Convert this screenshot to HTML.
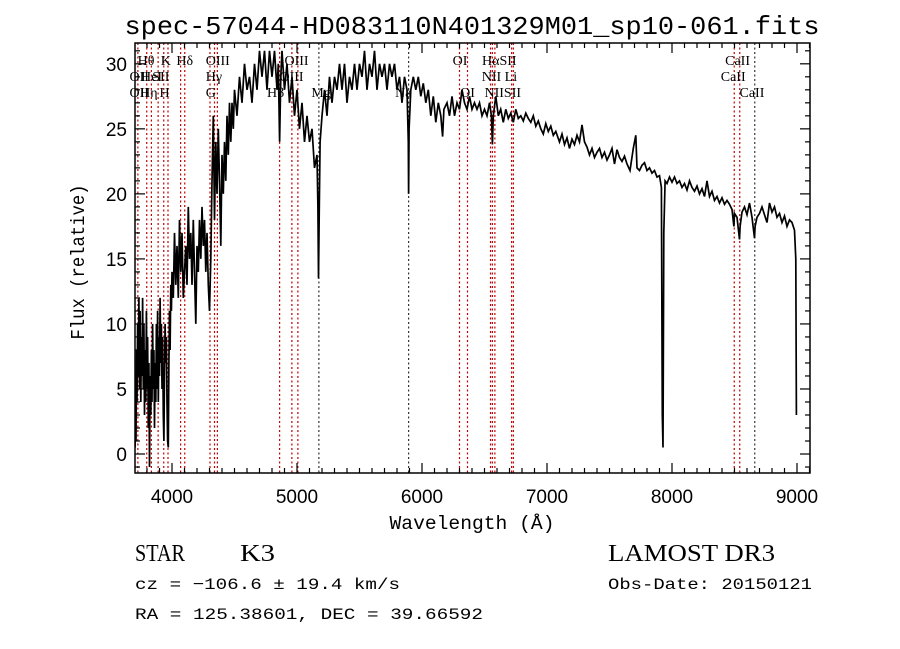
<!DOCTYPE html>
<html><head><meta charset="utf-8"><style>
html,body{margin:0;padding:0;background:#fff;}
svg{display:block;}
text{fill:#000;}
</style></head>
<body>
<svg id="chart" width="900" height="649" viewBox="0 0 900 649" xmlns="http://www.w3.org/2000/svg">
<rect width="900" height="649" fill="#fff"/>
<text x="472" y="34" text-anchor="middle" font-family="Liberation Mono, monospace" font-size="26" textLength="695" lengthAdjust="spacingAndGlyphs">spec-57044-HD083110N401329M01_sp10-061.fits</text>
<g id="lines"></g>
<g id="labels"></g>
<g id="spec"></g>
<g id="axes"></g>
<text x="472" y="529" text-anchor="middle" font-family="Liberation Mono, monospace" font-size="19" textLength="165" lengthAdjust="spacingAndGlyphs">Wavelength (Å)</text>
<text transform="translate(84,262) rotate(-90)" text-anchor="middle" font-family="Liberation Mono, monospace" font-size="19" textLength="155" lengthAdjust="spacingAndGlyphs">Flux (relative)</text>
<text x="135" y="561" font-family="Liberation Serif, serif" font-size="24" textLength="50" lengthAdjust="spacingAndGlyphs">STAR</text>
<text x="240" y="561" font-family="Liberation Serif, serif" font-size="24" textLength="35" lengthAdjust="spacingAndGlyphs">K3</text>
<text x="608" y="561" font-family="Liberation Serif, serif" font-size="24" textLength="167" lengthAdjust="spacingAndGlyphs">LAMOST DR3</text>
<text x="135" y="589" font-family="Liberation Mono, monospace" font-size="16" textLength="265" lengthAdjust="spacingAndGlyphs">cz = −106.6 ± 19.4 km/s</text>
<text x="608" y="589" font-family="Liberation Mono, monospace" font-size="16" textLength="204" lengthAdjust="spacingAndGlyphs">Obs-Date: 20150121</text>
<text x="135" y="619" font-family="Liberation Mono, monospace" font-size="16" textLength="348" lengthAdjust="spacingAndGlyphs">RA = 125.38601, DEC =  39.66592</text>
</svg>
<script>
const wl=[3705,3708,3712,3716,3720,3725,3730,3735,3740,3745,3750,3755,3760,3765,3770,3775,3780,3785,3790,3795,3800,3805,3810,3815,3820,3825,3830,3835,3840,3845,3850,3855,3860,3865,3870,3875,3880,3885,3890,3895,3900,3905,3910,3915,3920,3925,3930,3935,3940,3945,3950,3955,3960,3965,3970,3975,3980,3985,3990,3995,
4000,4010,4020,4030,4040,4050,4060,4070,4080,4090,4100,4110,4120,4130,4140,4150,4160,4170,4180,4190,4200,4210,4220,4230,4240,4250,4260,4270,4280,4290,4300,4310,4320,4330,4340,4350,4360,4370,4380,4390,4400,4410,4420,4430,4440,4450,4460,4470,4480,4490,4500,4520,4540,4560,4580,4600,4620,4640,4660,4680,4700,4720,4740,4760,4780,4800,4820,4840,4850,4861,4870,4880,4900,4920,4940,4960,4980,5000,5020,5040,5060,5080,5100,5120,5140,5160,5167,5172,5178,5185,5200,5220,5240,5260,5280,5300,5320,5340,5360,5380,5400,5420,5440,5460,5480,5500,5520,5540,5560,5580,5600,5620,5640,5660,5680,5700,5720,5740,5760,5780,5800,5820,5840,5860,5880,5890,5893,5897,5910,5930,5950,5970,5990,6010,6030,6050,6070,6090,6110,6130,6150,6165,6175,6200,6220,6240,6260,6280,6300,6320,6340,6360,6380,6400,6420,6440,6460,6480,6500,6520,6540,6555,6563,6570,6590,6610,6630,6650,6670,6690,6710,6730,6750,6770,6790,6810,6830,6850,6870,6890,6910,6930,6950,6970,6990,7010,7030,7050,7070,7100,7120,7140,7160,7180,7200,7220,7240,7260,7280,7300,7320,7340,7360,7380,7400,7420,7440,7460,7480,7500,7520,7540,7560,7580,7600,7620,7640,7664,7690,7710,7720,7740,7760,7780,7800,7820,7840,7860,7880,7900,7915,7922,7928,7934,7945,7960,7980,8000,8020,8040,8060,8080,8100,8120,8140,8160,8180,8200,8220,8240,8260,8280,8300,8320,8340,8360,8380,8400,8420,8440,8460,8480,8495,8500,8520,8540,8545,8560,8580,8600,8620,8640,8660,8665,8680,8700,8720,8740,8760,8780,8800,8820,8840,8860,8880,8900,8920,8940,8960,8980,8990,8995];
const flux=[0.5,3,1,8,4,10,6,12,5,11,4,9,6,12,5,10,3,8,4,11,5,9,2,7,-1,6,3,8,4,10,5,8,2,7,4,10,5,11,4,9,6,12,7,10,5,9,3,1,6,10,7,9,4,1,0.5,7,11,8,13,11,
14,12,17,13,16,12,18,14,17,12,14,16,13,19,15,17,13,18,14,10,16,14,18,15,19,16,18,14,17,13,11,15,21,26,18,24,20,25,21,16,23,20,24,21,26,23,27,24,27,25,28,26,29,27,30,28,29,27,30,28,31,29,31,28,31,29,31,28,30,24,29,31,28,30,27,29,26,28,25,27,24,26,24,25,22,23,19,13.5,19,24,26,28,26,29,27,29,28,30,28,30,27,29,28,30,28,30,29,31,28,30,29,31,28,30,29,30,28,30,29,30,28,29,27,29,28,24,20,25,28,29,28,29,27.5,28.5,27,28,26,27.5,25.5,27,26,24.4,26.5,27,26,27.5,26,27,26.5,28,27,26.5,27.5,26.5,27,26.5,27,26,26.5,26,27,26,23.8,26,27.5,26,26.5,25.5,26.5,25.8,26.2,25.5,26.5,25.8,26,25.6,26.2,25.8,25.5,26,25.2,25.6,25,24.6,25.4,24.8,25.2,24.5,24.8,24,24.6,23.8,24.3,23.5,24.2,23.8,24.5,24,25.3,24,23.6,23,23.5,22.8,23.2,23.5,22.8,23.2,22.6,23,23.5,22.3,23.4,22.8,22.5,22.9,22.3,21.8,23.5,24.5,22,21.8,22.2,22.4,21.8,22,21.6,21.8,21.3,21.4,20.5,3,0.5,17,21,20.8,21.3,20.9,21.3,20.8,21,20.5,20.8,20.3,21,20.5,20.2,20.6,20,20.4,19.8,21,19.8,20.2,19.5,19.8,19.3,19.7,19.2,19.5,19.2,18.8,17.5,18.5,18.2,16.5,17.5,18.6,19,18.4,19.3,18.2,16.6,17.5,18.2,18.5,19,18.4,17.8,19.3,18.6,19,18.2,18.5,17.8,18.3,17.5,18,17.8,17.2,15,3];
const lineWl=[3727,3798,3835,3889,3934,3968,4069,4102,4304,4340,4363,4861,4959,5007,5175,5893,6300,6364,6548,6563,6583,6717,6731,8498,8542,8662];
const lineDark=[0,0,0,0,0,0,0,0,0,0,0,0,0,0,1,1,0,0,0,0,0,0,0,0,0,1];
const labelText=["Hθ","K","Hδ","OIII","OIII","OII","HeI","SII","Hγ","OIII","OII","Hη","H","G","Hβ","Mg","Na","OI","HαSII","NII Li","OI","NIISII","CaII","CaII","CaII"];
const labelWl=[3725,3910,4035,4270,4900,3660,3752,3842,4270,4860,3660,3745,3900,4270,4760,5115,5785,6245,6480,6478,6305,6500,8425,8390,8540];
const labelRow=[0,0,0,0,0,1,1,1,1,1,2,2,2,2,2,2,2,0,0,1,2,2,0,1,2];
const xTicks=[4000,5000,6000,7000,8000,9000];
const yTicks=[0,5,10,15,20,25,30];

const L=135,R=810,T=43,B=473;
const X0=3704,X1=9104,Y0=-1.46,Y1=31.6;
const sx=v=>L+(v-X0)/(X1-X0)*(R-L);
const sy=v=>B-(v-Y0)/(Y1-Y0)*(B-T);
const NS="http://www.w3.org/2000/svg";
function mk(tag,attrs,parent){const e=document.createElementNS(NS,tag);for(const k in attrs)e.setAttribute(k,attrs[k]);parent.appendChild(e);return e;}

const gl=document.getElementById('lines');
lineWl.forEach((w,i)=>{
  const ln=mk('line',{x1:sx(w),x2:sx(w),y1:T,y2:B,stroke:lineDark[i]?'#333':'#c00000','stroke-width':1.2,'stroke-dasharray':'2,2.5'},gl);
  
  
});
const glab=document.getElementById('labels');
labelText.forEach((t,i)=>{
  const tx=mk('text',{x:sx(labelWl[i]),y:65+labelRow[i]*16,'font-family':'Liberation Serif, serif','font-size':14},glab);
  tx.textContent=t;
  
  
});
const gs=document.getElementById('spec');
const clip=mk('clipPath',{id:'pc'},gs);mk('rect',{x:L,y:T,width:R-L,height:B-T},clip);
const pts=wl.map((w,i)=>sx(w).toFixed(1)+','+sy(flux[i]).toFixed(1)).join(' ');
const pl=mk('polyline',{points:pts,fill:'none',stroke:'#000','stroke-width':1.7,'clip-path':'url(#pc)'},gs);



const ga=document.getElementById('axes');
const fr=mk('rect',{x:L,y:T,width:R-L,height:B-T,fill:'none',stroke:'#000','stroke-width':1.5},ga);


for(let w=3800;w<=9100;w+=100){
  const maj=w%1000===0, len=maj?10:5, x=sx(w);
  mk('line',{x1:x,x2:x,y1:B,y2:B-len,stroke:'#000','stroke-width':1.2},ga);
  mk('line',{x1:x,x2:x,y1:T,y2:T+len,stroke:'#000','stroke-width':1.2},ga);
}
for(let v=-1;v<=31;v++){
  const maj=v%5===0, len=maj?10:5, y=sy(v);
  mk('line',{x1:L,x2:L+len,y1:y,y2:y,stroke:'#000','stroke-width':1.2},ga);
  mk('line',{x1:R,x2:R-len,y1:y,y2:y,stroke:'#000','stroke-width':1.2},ga);
}
xTicks.forEach(v=>{
  const t=mk('text',{x:sx(v),y:B+30,'text-anchor':'middle','font-family':'Liberation Sans, sans-serif','font-size':19},ga);
  t.textContent=v;
  
  
});
yTicks.forEach(v=>{
  const t=mk('text',{x:L-8,y:sy(v)+7,'text-anchor':'end','font-family':'Liberation Sans, sans-serif','font-size':19},ga);
  t.textContent=v;
  
  
});
</script>
</body></html>
